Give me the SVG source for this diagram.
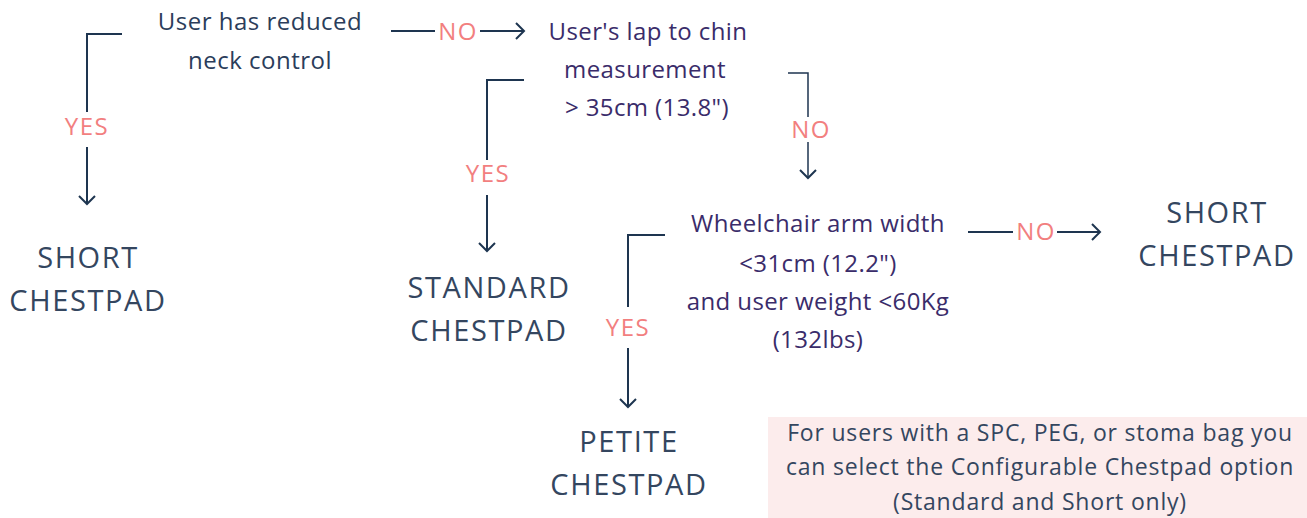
<svg xmlns="http://www.w3.org/2000/svg" width="1307" height="518" viewBox="0 0 1307 518">
<defs>
<marker id="arr" markerUnits="userSpaceOnUse" markerWidth="20" markerHeight="20" refX="10" refY="10" orient="auto" overflow="visible">
<path d="M2,2 L10,10 L2,18" fill="none" stroke="#1E3550" stroke-width="2"/>
</marker>
<style>
.ln{fill:none;stroke:#1E3550;stroke-width:2}
.q1{font-family:"Open Sans","Liberation Sans",sans-serif;font-size:24px;letter-spacing:0.5px;fill:#2B3D5B;text-anchor:middle}
.q{font-family:"Open Sans","Liberation Sans",sans-serif;font-size:24px;letter-spacing:0.4px;fill:#3A2C6A;text-anchor:middle}
.lab{font-family:"Open Sans","Liberation Sans",sans-serif;font-size:24px;letter-spacing:1.5px;fill:#F27F7F;text-anchor:middle}
.res{font-family:"Open Sans","Liberation Sans",sans-serif;font-size:29px;letter-spacing:1.6px;fill:#34465F;text-anchor:middle}
.note{font-family:"Open Sans","Liberation Sans",sans-serif;font-size:23px;letter-spacing:0.8px;fill:#34465F;text-anchor:middle}
</style>
</defs>
<rect width="1307" height="518" fill="#FFFFFF"/>
<g id="connectors">
<polyline class="ln" points="122,34 87,34 87,112"/>
<line class="ln" x1="87" y1="147" x2="87" y2="204" marker-end="url(#arr)"/>
<line class="ln" x1="391" y1="31" x2="435" y2="31"/>
<line class="ln" x1="480" y1="31" x2="524" y2="31" marker-end="url(#arr)"/>
<polyline class="ln" points="524,80 487,80 487,160"/>
<line class="ln" x1="487" y1="195" x2="487" y2="251" marker-end="url(#arr)"/>
<polyline class="ln" points="788,73 808,73 808,117" style="stroke-width:1.5"/>
<line class="ln" x1="808" y1="142" x2="808" y2="178" style="stroke-width:1.5" marker-end="url(#arr)"/>
<polyline class="ln" points="665,235 628,235 628,307"/>
<line class="ln" x1="628" y1="348" x2="628" y2="407" marker-end="url(#arr)"/>
<line class="ln" x1="968" y1="232" x2="1013" y2="232"/>
<line class="ln" x1="1057" y1="232" x2="1100" y2="232" marker-end="url(#arr)"/>
<text class="lab" x="87" y="135">YES</text>
<text class="lab" x="458" y="40">NO</text>
<text class="lab" x="488" y="182">YES</text>
<text class="lab" x="811" y="138">NO</text>
<text class="lab" x="628" y="336">YES</text>
<text class="lab" x="1036" y="240">NO</text>
</g>
<g id="q1">
<text class="q1" x="260" y="30">User has reduced</text>
<text class="q1" x="260" y="69">neck control</text>
</g>
<g id="q2">
<text class="q" x="648" y="40">User's lap to chin</text>
<text class="q" x="645" y="78">measurement</text>
<text class="q" x="647" y="116">&gt; 35cm (13.8")</text>
</g>
<g id="q3">
<text class="q" x="818" y="232">Wheelchair arm width</text>
<text class="q" x="818" y="272">&lt;31cm (12.2")</text>
<text class="q" x="818" y="310">and user weight &lt;60Kg</text>
<text class="q" x="818" y="348">(132lbs)</text>
</g>
<g id="short1">
<text class="res" x="88" y="268">SHORT</text>
<text class="res" x="88" y="311">CHESTPAD</text>
</g>
<g id="standard">
<text class="res" x="489" y="298">STANDARD</text>
<text class="res" x="489" y="341">CHESTPAD</text>
</g>
<g id="petite">
<text class="res" x="629" y="452">PETITE</text>
<text class="res" x="629" y="495">CHESTPAD</text>
</g>
<g id="short2">
<text class="res" x="1217" y="223">SHORT</text>
<text class="res" x="1217" y="266">CHESTPAD</text>
</g>
<g id="note">
<rect x="768" y="417" width="539" height="101" fill="#FCECEC"/>
<text class="note" x="1040" y="441">For users with a SPC, PEG, or stoma bag you</text>
<text class="note" x="1040" y="475">can select the Configurable Chestpad option</text>
<text class="note" x="1040" y="510">(Standard and Short only)</text>
</g>
</svg>
